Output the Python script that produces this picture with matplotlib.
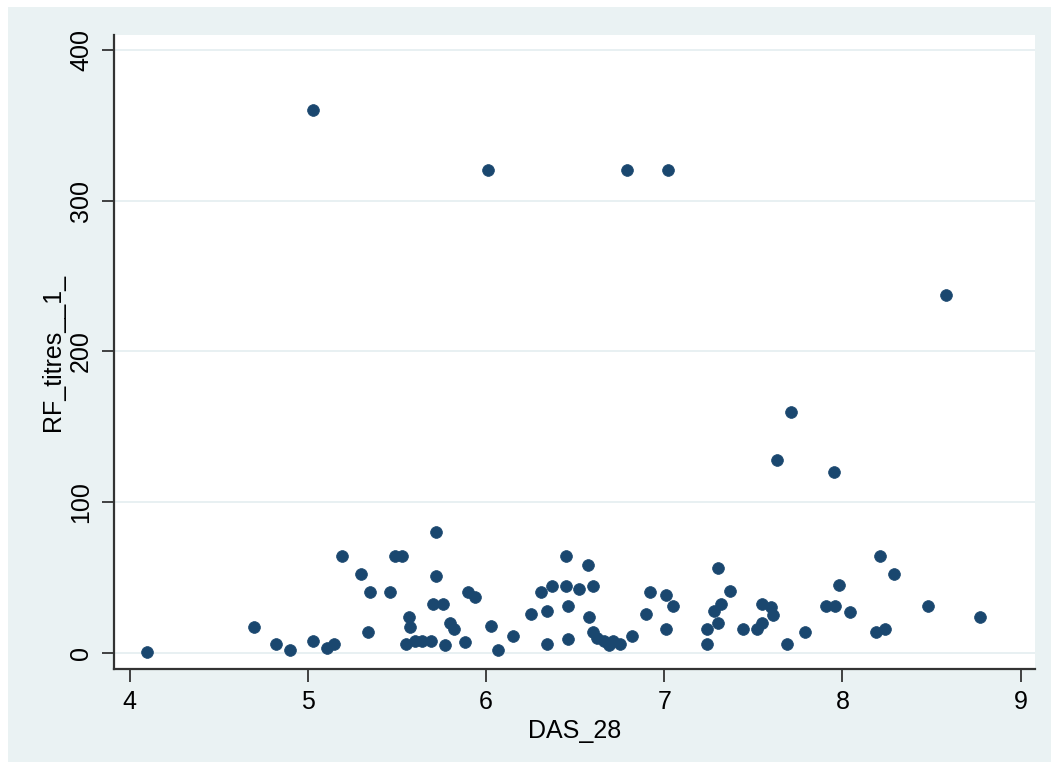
import matplotlib.pyplot as plt
from matplotlib.patches import Rectangle

# DAS_28 score vs rheumatoid factor titre, one point per patient
das_28 = [
    4.10, 4.70, 4.82, 4.90, 5.03, 5.03, 5.11, 5.15, 5.19, 5.30,
    5.35, 5.34, 5.46, 5.49, 5.53, 5.55, 5.60, 5.64, 5.69, 5.57,
    5.575, 5.72, 5.72, 5.70, 5.76, 5.77, 5.80, 5.82, 5.88, 5.90,
    5.94, 6.01, 6.03, 6.07, 6.15, 6.25, 6.31, 6.34, 6.34, 6.37,
    6.45, 6.45, 6.46, 6.46, 6.52, 6.57, 6.58, 6.60, 6.60, 6.62,
    6.66, 6.69, 6.71, 6.75, 6.79, 6.82, 6.90, 6.92, 7.01, 7.01,
    7.02, 7.05, 7.24, 7.24, 7.28, 7.30, 7.30, 7.32, 7.37, 7.44,
    7.52, 7.55, 7.55, 7.60, 7.61, 7.63, 7.69, 7.71, 7.79, 7.91,
    7.95, 7.96, 7.98, 8.04, 8.19, 8.21, 8.24, 8.29, 8.48, 8.58,
    8.77,
]
rf_titres = [
    0.5, 17, 6, 2, 8, 360, 3, 6, 64, 52,
    40, 14, 40, 64, 64, 6, 8, 8, 8, 24,
    17, 80, 51, 32, 32, 5, 20, 16, 7, 40,
    37, 320, 18, 2, 11, 26, 40, 28, 6, 44,
    64, 44, 31, 9, 42, 58, 24, 44, 14, 10,
    8, 5, 8, 6, 320, 11, 26, 40, 38, 16,
    320, 31, 16, 6, 28, 56, 20, 32, 41, 16,
    16, 20, 32, 30, 25, 128, 6, 160, 14, 31,
    120, 31, 45, 27, 14, 64, 16, 52, 31, 237,
    24,
]

x_ticks = [4, 5, 6, 7, 8, 9]
y_ticks = [0, 100, 200, 300, 400]

W, H = 1059, 769
fig = plt.figure(figsize=(W / 100, H / 100), dpi=100)
fig.patch.set_facecolor('white')

# light blue-grey graph region behind the white plot region
fig.add_artist(Rectangle((8 / W, 7 / H), (W - 16) / W, (H - 14) / H,
                         transform=fig.transFigure, facecolor='#eaf2f3',
                         edgecolor='none', zorder=0))

ax = fig.add_axes([114 / W, 1 - 669 / H, (1035 - 114) / W, (669 - 35) / H])
ax.set_facecolor('white')

ax.scatter(das_28, rf_titres, s=72, color='#1a476f', edgecolors='#1a476f',
           linewidths=0.5, zorder=3)

ax.set_xlim(3.913, 9.08)
ax.set_ylim(-10.8, 409.8)
ax.set_xticks(x_ticks)
ax.set_yticks(y_ticks)

ax.grid(axis='y', color='#e6eff1', linewidth=1.3, zorder=0)
ax.set_axisbelow(True)

for side in ['top', 'right']:
    ax.spines[side].set_visible(False)
for side in ['left', 'bottom']:
    ax.spines[side].set_color('#333333')
    ax.spines[side].set_linewidth(1.6)

font = 'Liberation Sans'
ax.tick_params(axis='both', direction='out', length=9, width=1.3,
               color='#333333', labelsize=18, pad=6)
ax.tick_params(axis='y', labelrotation=90)
for lbl in ax.get_yticklabels():
    lbl.set_va('center')
    lbl.set_family(font)
for lbl in ax.get_xticklabels():
    lbl.set_family(font)

ax.set_xlabel('DAS_28', fontsize=18, family=font, labelpad=4)
ax.set_ylabel('RF_titres__1_', fontsize=18, family=font, labelpad=3)

fig.savefig('out.png', dpi=100, facecolor=fig.get_facecolor())
